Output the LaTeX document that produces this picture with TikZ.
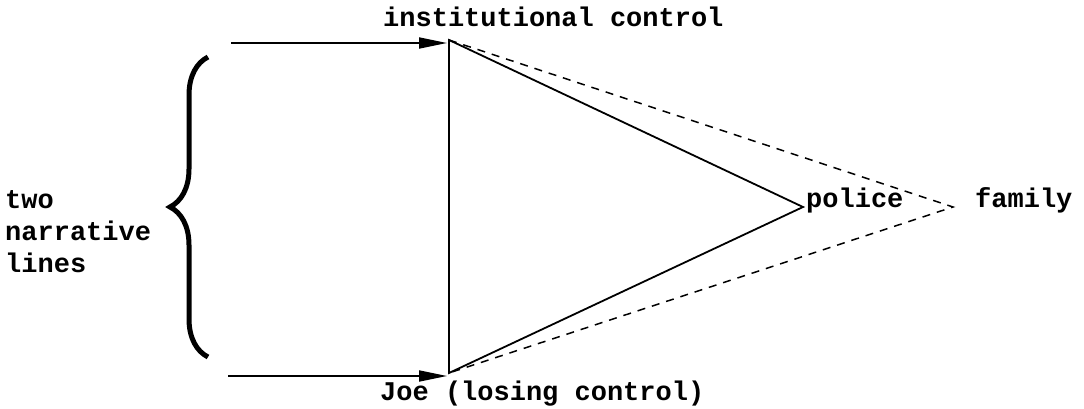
\documentclass[tikz,border=0pt]{standalone}
\usepackage{fontspec}
\setmainfont{Liberation Mono}
\usetikzlibrary{arrows.meta,decorations.pathreplacing}
\begin{document}
\begin{tikzpicture}[x=1pt,y=-1pt,
  lbl/.style={font=\fontsize{27}{32}\selectfont\bfseries, inner sep=0pt},
  edge/.style={line width=1.8pt},
  dashline/.style={line width=1.5pt, dash pattern=on 8pt off 7pt},
  arr/.style={line width=1.8pt,-{Triangle[length=28pt,width=11pt]}},
  bracestyle/.style={line width=5pt, decorate, decoration={brace, amplitude=38pt}}]
\useasboundingbox (0,0) rectangle (1084,409);
\coordinate (T) at (449,40);
\coordinate (B) at (449,373);
\coordinate (P) at (803,207);
\coordinate (F) at (953,207);
\coordinate (A1) at (231,43);
\coordinate (A1e) at (447,43);
\coordinate (A2) at (228,376);
\coordinate (A2e) at (447,376);
\coordinate (Bb) at (208,357);
\coordinate (Bt) at (208,57);
\draw[edge] (T) -- (B) -- (P) -- cycle;
\draw[dashline] (T) -- (F) -- (B);
\draw[arr] (A1) -- (A1e);
\draw[arr] (A2) -- (A2e);
\draw[bracestyle] (Bb) -- (Bt);
\node[lbl, anchor=base west] (inst) at (383,27) {institutional control};
\node[lbl, anchor=base west] (joe) at (380,400) {Joe (losing control)};
\node[lbl, anchor=base west] (pol) at (806,207) {police};
\node[lbl, anchor=base west] (fam) at (975,207) {family};
\node[lbl, anchor=base west, align=left] (two) at (5,272) {two\\narrative\\lines};
\end{tikzpicture}
\end{document}
